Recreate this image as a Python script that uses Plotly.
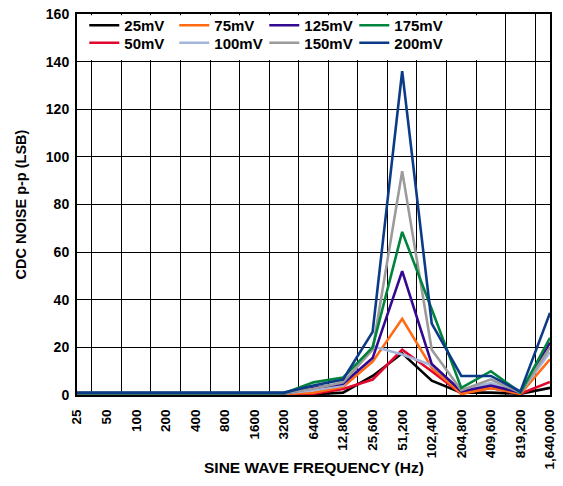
import plotly.graph_objects as go

categories = ["25", "50", "100", "200", "400", "800", "1600", "3200", "6400",
              "12,800", "25,600", "51,200", "102,400", "204,800", "409,600",
              "819,200", "1,640,000"]

mv25 = [0.3, 0.3, 0.3, 0.3, 0.3, 0.3, 0.3, 0.3, 0.3, 1.0, 8.0, 17.5, 6.0, 1.0, 1.0, 0.5, 3.0]
mv50 = [0.5, 0.5, 0.5, 0.5, 0.5, 0.5, 0.5, 0.5, 0.5, 2.5, 6.5, 19.0, 10.0, 0.5, 3.0, 0.5, 5.5]
mv75 = [0.5, 0.5, 0.5, 0.5, 0.5, 0.5, 0.5, 0.5, 1.0, 3.5, 14.0, 32.0, 11.5, 0.5, 3.0, 0.5, 15.0]
mv100 = [0.6, 0.6, 0.6, 0.6, 0.6, 0.6, 0.6, 0.6, 2.0, 4.0, 20.5, 17.0, 12.5, 2.0, 5.0, 1.0, 18.0]
mv125 = [0.7, 0.7, 0.7, 0.7, 0.7, 0.7, 0.7, 0.7, 3.0, 4.7, 15.5, 52.0, 13.0, 1.5, 4.0, 1.0, 22.0]
mv150 = [0.8, 0.8, 0.8, 0.8, 0.8, 0.8, 0.8, 0.8, 2.6, 5.3, 19.0, 94.0, 19.0, 2.0, 6.5, 1.0, 20.0]
mv175 = [0.8, 0.8, 0.8, 0.8, 0.8, 0.8, 0.8, 0.8, 5.3, 7.3, 20.0, 68.5, 36.0, 3.0, 10.0, 1.0, 24.0]
mv200 = [1.0, 1.0, 1.0, 1.0, 1.0, 1.0, 1.0, 1.0, 4.0, 6.5, 26.5, 136.0, 30.0, 8.0, 8.0, 1.5, 34.5]

# name, values, colour, legend row, column rank
series = [
    ("25mV", mv25, "#000000", "legend", 1),
    ("50mV", mv50, "#E0062E", "legend2", 1),
    ("75mV", mv75, "#FF6A13", "legend", 2),
    ("100mV", mv100, "#A3B6D9", "legend2", 2),
    ("125mV", mv125, "#33098F", "legend", 3),
    ("150mV", mv150, "#9B9B9B", "legend2", 3),
    ("175mV", mv175, "#00843D", "legend", 4),
    ("200mV", mv200, "#0B3B87", "legend2", 4),
]

FONT = "Liberation Sans, Arial, sans-serif"
BOLD = dict(family=FONT, color="#000000", weight="bold")

fig = go.Figure()
for name, vals, color, lg, rank in series:
    fig.add_trace(go.Scatter(
        x=categories, y=vals, mode="lines", name=name,
        line=dict(color=color, width=2.6),
        legend=lg, legendrank=rank,
    ))

legend_common = dict(
    orientation="h", xanchor="left", yanchor="top",
    bgcolor="rgba(0,0,0,0)", entrywidth=45, entrywidthmode="pixels",
    font=dict(size=15, **BOLD), itemwidth=30,
)

fig.update_layout(
    width=563, height=486,
    margin=dict(l=77, r=6, t=11, b=91),
    paper_bgcolor="white", plot_bgcolor="white",
    font=dict(family=FONT, size=13, color="#000000"),
    showlegend=True,
    legend=dict(x=0.0154, y=1.013, **legend_common),
    legend2=dict(x=0.0154, y=0.967, **legend_common),
    shapes=[dict(type="rect", xref="paper", yref="paper",
                 x0=0.003, x1=0.877, y0=0.879, y1=0.997,
                 fillcolor="white", line=dict(width=0), layer="above")],
    annotations=[dict(text="SINE WAVE FREQUENCY (Hz)", xref="paper", yref="paper",
                      x=0.5, y=-0.19, xanchor="center", yanchor="middle",
                      showarrow=False, font=dict(size=15.5, **BOLD))],
    xaxis=dict(
        type="category", categoryorder="array", categoryarray=categories,
        tickson="boundaries", showgrid=True, gridcolor="#000000", gridwidth=1.2,
        showline=True, linecolor="#000000", linewidth=2, mirror=True,
        ticks="", tickangle=-90, ticklabelstandoff=7,
        tickfont=dict(size=13.5, **BOLD),
    ),
    yaxis=dict(
        range=[0, 160], dtick=20, tick0=0,
        showgrid=True, gridcolor="#000000", gridwidth=1.2,
        showline=True, linecolor="#000000", linewidth=2, mirror=True,
        ticks="", zeroline=False, ticklabelstandoff=3,
        tickfont=dict(size=14, **BOLD),
        title=dict(text="CDC NOISE p-p (LSB)", standoff=16,
                   font=dict(size=14.5, **BOLD)),
    ),
)

fig.write_html("out.html", config={"displayModeBar": False},
               post_script="document.body.style.margin='0';document.body.style.padding='0';")
